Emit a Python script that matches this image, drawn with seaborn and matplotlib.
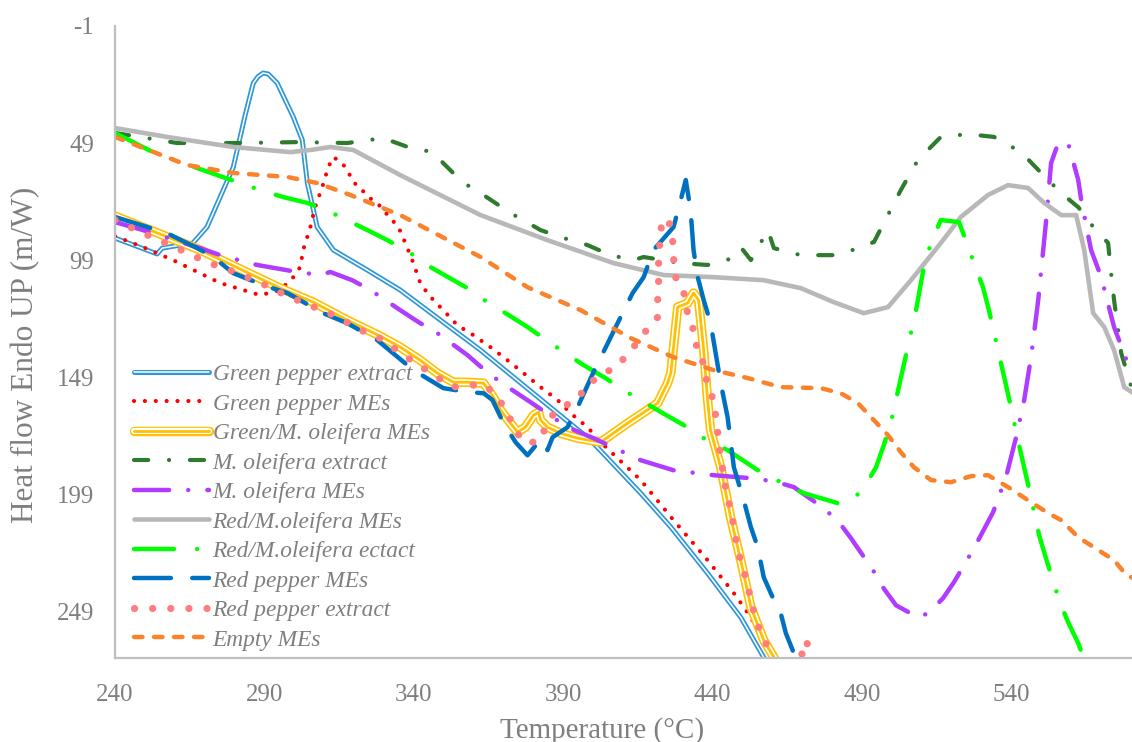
import numpy as np
import pandas as pd
import matplotlib
matplotlib.use("Agg")
import matplotlib.pyplot as plt
import matplotlib.patheffects as pe
import seaborn as sns

# series (temperature in °C, heat flow)
gp_ext_t = [240, 254.1, 255.8, 266.1, 270.8, 279.6, 283.6, 286.3, 287.9, 289.6, 291.3, 294.3, 299.7, 302.7,
            304.4, 307.7, 313.1, 324.5, 335.5, 362.4, 399.2, 416.0, 426.1, 438.4, 449.5, 457.2, 459.6]
gp_ext_hf = [89.6, 96.4, 93.9, 91.7, 84.9, 59.3, 37.0, 23.4, 20.6, 19.1, 19.5, 23.4, 37.9, 47.7,
             66.1, 84.9, 94.7, 103.3, 111.8, 137.5, 175.9, 198.6, 213.1, 232.8, 251.6, 268.7, 274.2]

gp_mes_t = [240, 249.4, 259.4, 275.2, 288.6, 295.3, 299.7, 302.0, 303.0, 305.4, 307.0, 309.4, 311.4, 313.1,
            316.1, 318.1, 319.8, 322.1, 324.8, 327.8, 329.8, 332.2, 334.9, 337.2, 339.9, 342.2, 344.6,
            346.6, 349.9, 354.6, 360.0, 365.7, 371.4, 376.8, 382.5, 388.2, 392.5, 398.2, 402.6, 416.0,
            427.0, 438.4, 447.2, 452.9, 458.6, 461.3]
gp_mes_hf = [88.8, 93.5, 99.0, 108.8, 114.0, 111.8, 106.3, 102.0, 94.7, 84.9, 76.4, 67.8, 59.3, 55.0,
             57.6, 61.4, 65.7, 68.2, 72.1, 74.6, 77.6, 81.1, 84.9, 91.7, 100.3, 108.8, 113.1,
             116.1, 120.4, 126.8, 131.1, 136.2, 141.8, 147.3, 153.3, 158.8, 164.4, 170.4, 176.8, 193.0,
             210.1, 227.2, 241.3, 251.6, 265.7, 274.2]

gmo_mes_t = [240, 268.5, 295.3, 306.4, 317.8, 328.8, 335.5, 342.2, 347.9, 353.3, 358.0, 363.4, 366.7,
             369.1, 372.4, 374.8, 377.4, 380.1, 381.8, 382.5, 384.8, 389.2, 394.9, 402.6, 411.6, 421.7,
             425.0, 426.1, 428.4, 431.7, 433.7, 435.4, 437.1, 438.4, 439.4, 442.8, 446.1, 449.5, 452.9,
             457.2, 460.6, 462.3]
gmo_mes_hf = [80.2, 94.7, 111.0, 117.0, 124.7, 131.5, 136.2, 141.8, 147.3, 151.2, 151.2, 151.6, 157.6,
              163.1, 168.7, 172.5, 170.4, 165.3, 164.0, 167.4, 170.4, 173.0, 175.1, 176.8, 168.7, 160.1,
              151.6, 147.3, 119.1, 117.4, 113.1, 116.1, 137.5, 158.8, 171.7, 187.5, 208.9, 227.2, 247.3,
              261.4, 268.7, 274.2]

mo_ext_t = [240, 260.8, 281.9, 302.0, 317.8, 329.8, 338.9, 346.6, 349.9, 356.3, 362.4, 372.4, 382.5, 390.2,
            398.2, 405.9, 413.6, 417.0, 429.4, 438.4, 445.1, 449.5, 452.9, 458.6, 460.6, 469.6, 480.7,
            488.1, 494.1, 503.1, 508.8, 516.5, 525.6, 534.3, 543.4, 550.1, 556.8, 562.5, 567.8, 572.5,
            573.5, 574.5, 576.9, 580.3]
mo_ext_hf = [44.7, 49.0, 49.0, 48.6, 49.0, 46.9, 51.1, 52.9, 57.6, 65.7, 70.4, 78.9, 86.2, 89.6,
             92.6, 96.9, 99.0, 97.7, 100.3, 101.1, 99.0, 93.5, 99.0, 86.2, 93.9, 96.9, 96.9,
             94.3, 91.3, 69.1, 56.3, 46.4, 45.2, 46.4, 52.9, 61.8, 70.4, 76.4, 85.3, 91.7,
             104.6, 116.1, 138.8, 153.3]

mo_mes_t = [240, 249.4, 268.5, 275.2, 287.6, 301.0, 308.7, 312.1, 319.4, 325.5, 335.5, 341.6, 347.9, 358.0,
            363.4, 369.1, 379.1, 391.5, 400.2, 416.0, 427.0, 440.4, 452.9, 460.6, 467.3, 477.3, 482.4,
            486.4, 493.8, 497.1, 501.5, 508.8, 512.2, 517.2, 520.9, 527.6, 534.0, 538.3, 541.7, 544.4,
            546.7, 549.1, 551.7, 553.4, 555.8, 559.1, 562.5, 563.5, 566.8, 570.2, 574.5, 580.3]
mo_mes_hf = [82.8, 86.2, 93.9, 96.9, 101.1, 104.1, 105.4, 104.1, 107.6, 111.8, 120.4, 125.5, 130.2, 139.6,
             145.6, 151.2, 159.7, 170.4, 175.1, 184.5, 188.8, 190.9, 192.2, 193.5, 196.0, 205.0, 211.0,
             217.8, 231.5, 238.8, 246.5, 251.6, 249.9, 243.5, 236.6, 222.1, 206.7, 191.8, 174.7, 158.8,
             140.5, 116.1, 82.8, 57.6, 49.0, 49.0, 64.8, 73.4, 94.7, 106.3, 127.6, 147.3]

rmo_mes_t = [240, 257.4, 279.6, 298.7, 305.4, 312.1, 319.8, 335.5, 362.4, 384.8, 406.9, 423.7, 440.4,
             457.2, 469.6, 480.7, 490.7, 498.8, 506.5, 516.5, 523.2, 532.3, 539.0, 545.7, 551.1, 556.8,
             561.8, 564.5, 567.5, 571.2, 574.5, 577.9, 581]
rmo_mes_hf = [42.6, 46.4, 50.7, 52.9, 52.0, 50.7, 52.0, 62.7, 79.8, 90.5, 100.3, 105.4, 106.3,
              107.6, 111.0, 117.0, 121.7, 119.1, 107.6, 91.7, 80.6, 71.2, 67.0, 68.2, 74.6, 79.8,
              79.8, 94.7, 121.7, 127.6, 137.5, 153.3, 155.9]

rmo_ext_t = [240, 252.7, 267.5, 274.2, 288.6, 296.3, 304.4, 312.1, 324.5, 331.2, 338.9, 345.6, 358.0, 364.7,
             371.8, 378.1, 390.2, 396.9, 404.2, 410.3, 423.4, 430.4, 437.1, 445.1, 456.2, 463.6, 470.6,
             478.7, 483.0, 487.4, 490.7, 494.8, 497.4, 499.8, 503.1, 508.2, 510.8, 513.2, 516.5, 522.6,
             527.6, 530.6, 532.6, 537.7, 539.3, 542.7, 546.0, 549.4, 551.7, 556.1, 559.1, 562.5, 565.2]
rmo_ext_hf = [44.7, 52.9, 59.7, 62.7, 69.1, 72.1, 74.6, 78.5, 86.2, 90.5, 96.0, 102.0, 111.0, 117.0,
              122.5, 127.6, 138.3, 143.9, 149.4, 154.6, 164.4, 169.5, 175.1, 180.2, 189.6, 194.3, 198.6,
              201.6, 203.3, 200.7, 196.5, 187.5, 178.1, 168.3, 149.4, 120.4, 102.0, 91.7, 81.9, 82.8,
              100.3, 110.6, 120.4, 149.0, 158.0, 178.1, 196.5, 216.5, 226.4, 244.3, 253.7, 262.7, 272.1]

rp_mes_t = [240, 257.4, 267.5, 272.9, 279.6, 289.6, 297.7, 309.7, 317.8, 327.8, 339.9, 349.9, 358.0, 363.4,
            366.4, 370.1, 374.1, 378.1, 381.5, 383.5, 384.8, 386.5, 391.5, 394.9, 400.2, 408.3, 413.3,
            417.0, 420.3, 427.0, 429.4, 431.1, 432.7, 433.7, 435.1, 437.1, 439.4, 442.8, 445.1, 447.2,
            450.5, 452.9, 455.2, 457.2, 460.6, 462.9, 464.6, 466.9, 468.3]
rp_mes_hf = [80.6, 87.5, 93.9, 97.7, 104.6, 109.7, 113.1, 121.7, 126.0, 133.2, 146.0, 153.7, 155.4, 155.9,
             158.8, 168.7, 176.8, 182.4, 177.2, 175.9, 180.2, 174.7, 170.4, 161.8, 146.9, 125.9, 113.1,
             106.3, 94.7, 84.9, 73.4, 64.8, 77.6, 94.7, 106.3, 116.1, 125.9, 151.6, 166.1, 187.5,
             201.6, 213.1, 221.7, 234.5, 244.3, 249.9, 258.4, 265.7, 274.2]

rp_ext_t = [240, 249.4, 260.1, 270.8, 281.2, 292.0, 297.0, 302.7, 313.1, 323.1, 328.5, 338.2, 347.9, 353.0,
            358.4, 364.0, 368.0, 371.4, 373.4, 376.8, 381.8, 384.1, 386.5, 390.2, 395.2, 398.6, 403.6,
            408.3, 412.0, 416.0, 418.7, 421.7, 421.7, 422.0, 422.0, 422.0, 423.4, 422.7, 423.4, 425.4,
            426.7, 427.0, 427.7, 429.4, 430.4, 431.7, 433.4, 433.7, 436.1, 437.1, 438.4, 440.1, 441.1,
            442.5, 444.1, 446.5, 448.5, 451.2, 453.9, 455.6, 457.9, 460.2, 464.6, 471.6, 472.3, 473.6]
rp_ext_hf = [81.9, 87.5, 93.5, 99.9, 104.6, 110.6, 114.0, 117.0, 122.5, 129.4, 132.3, 140.9, 149.0, 153.3,
             152.4, 152.4, 157.6, 164.0, 170.4, 176.8, 176.8, 170.8, 165.3, 161.8, 157.6, 151.6, 147.7,
             143.9, 138.8, 132.3, 127.6, 123.4, 115.3, 108.4, 101.1, 93.9, 89.2, 84.1, 81.9, 81.9,
             90.5, 98.2, 106.3, 111.0, 112.7, 121.7, 125.9, 134.1, 137.5, 144.7, 152.4, 158.0, 165.3,
             180.2, 194.3, 208.0, 223.0, 234.9, 249.5, 256.3, 262.7, 268.7, 287.0, 261.4, 267.8, 287.0]

empty_t = [240, 249.4, 264.1, 279.6, 297.7, 307.7, 318.8, 335.5, 362.4, 378.1, 395.9, 412.6, 427.0, 440.4,
           451.8, 462.9, 476.3, 483.0, 488.7, 494.1, 498.8, 503.1, 507.5, 513.2, 519.9, 526.6, 532.3,
           539.0, 545.7, 552.4, 556.8, 562.5, 569.2, 574.5, 578.6, 581]
empty_hf = [46.4, 51.1, 58.4, 61.8, 63.5, 66.1, 71.2, 79.8, 97.7, 110.6, 120.4, 132.3, 140.5, 146.0,
            149.4, 153.3, 153.7, 155.9, 160.1, 167.4, 173.8, 181.1, 187.5, 193.0, 193.9, 191.3, 190.9,
            196.0, 201.6, 207.1, 210.1, 217.4, 222.9, 227.2, 233.6, 234.9]

labels = ["Green pepper extract", "Green pepper MEs", "Green/M. oleifera MEs", "M. oleifera extract",
          "M. oleifera MEs", "Red/M.oleifera MEs", "Red/M.oleifera ectact", "Red pepper MEs",
          "Red pepper extract", "Empty MEs"]
x_ticks = [240, 290, 340, 390, 440, 490, 540]
y_ticks = [-1, 49, 99, 149, 199, 249]

sns.set_style("white")
plt.rcParams["font.family"] = ["Liberation Serif", "DejaVu Serif"]
grey_txt = "#7f7f7f"

fig = plt.figure(figsize=(11.32, 7.42), dpi=100)
ax = fig.add_axes([0.1016, 0.1132, 0.8984, 0.8518])

series = [(gp_ext_t, gp_ext_hf), (gp_mes_t, gp_mes_hf), (gmo_mes_t, gmo_mes_hf), (mo_ext_t, mo_ext_hf),
          (mo_mes_t, mo_mes_hf), (rmo_mes_t, rmo_mes_hf), (rmo_ext_t, rmo_ext_hf), (rp_mes_t, rp_mes_hf),
          (rp_ext_t, rp_ext_hf), (empty_t, empty_hf)]

styles = [
    dict(color="white", lw=1.1, path_effects=[pe.Stroke(linewidth=3.6, foreground="#2f97d6"), pe.Normal()]),
    dict(color="#ff0000", lw=3.0, linestyle=(0, (0.01, 2.6)), dash_capstyle="round"),
    dict(color="#ffc000", lw=2.0, path_effects=[pe.Stroke(linewidth=6.8, foreground="#ffc000"),
                                                pe.Stroke(linewidth=4.4, foreground="white"), pe.Normal()]),
    dict(color="#2e7b2e", lw=3.0, linestyle=(0, (3.4, 5.0, 0.01, 5.0)), dash_capstyle="round"),
    dict(color="#b03cff", lw=3.2, linestyle=(0, (7.9, 4.3, 0.01, 4.3)), dash_capstyle="round"),
    dict(color="#b8b8b8", lw=3.3, solid_capstyle="round"),
    dict(color="#00ff00", lw=3.2, linestyle=(0, (9.0, 5.2, 0.01, 5.2)), dash_capstyle="round"),
    dict(color="#0070c0", lw=3.2, linestyle=(0, (8.3, 4.8)), dash_capstyle="round"),
    dict(color="#ff7c80", lw=5.2, linestyle=(0, (0.01, 2.5)), dash_capstyle="round"),
    dict(color="#f9822a", lw=3.2, linestyle=(0, (1.9, 2.6)), dash_capstyle="round"),
]

for (t, hf), lab, st in zip(series, labels, styles):
    df = pd.DataFrame({"t": t, "hf": hf})
    sns.lineplot(data=df, x="t", y="hf", sort=False, estimator=None, ax=ax, label=lab, **st)

ax.set_xlim(240, 580.5)
ax.set_ylim(269, -1)
ax.set_xticks(x_ticks)
ax.set_xticklabels([str(v) for v in x_ticks])
ax.set_yticks(y_ticks)
ax.set_yticklabels([str(v) for v in y_ticks])
ax.tick_params(axis="x", length=0, pad=19, labelsize=18, labelcolor=grey_txt)
ax.tick_params(axis="y", length=0, pad=15, labelsize=18, labelcolor=grey_txt)

for s in ["top", "right"]:
    ax.spines[s].set_visible(False)
for s in ["left", "bottom"]:
    ax.spines[s].set_color("#bfbfbf")
    ax.spines[s].set_linewidth(1.6)

ax.set_xlabel("Temperature (°C)", fontsize=21, color=grey_txt)
ax.xaxis.set_label_coords(0.479, -0.093)
ax.set_ylabel("Heat flow Endo UP (m/W)", fontsize=22.5, color=grey_txt)
ax.yaxis.set_label_coords(-0.074, 0.479)

ax.legend(loc="lower left", bbox_to_anchor=(0.003, -0.014), frameon=False,
          prop={"family": ["Liberation Serif"], "style": "italic", "size": 16.8},
          labelcolor=grey_txt, handlelength=3.2, handletextpad=0.15, labelspacing=0.35, borderpad=0.2)

fig.savefig("out.png", dpi=100)
